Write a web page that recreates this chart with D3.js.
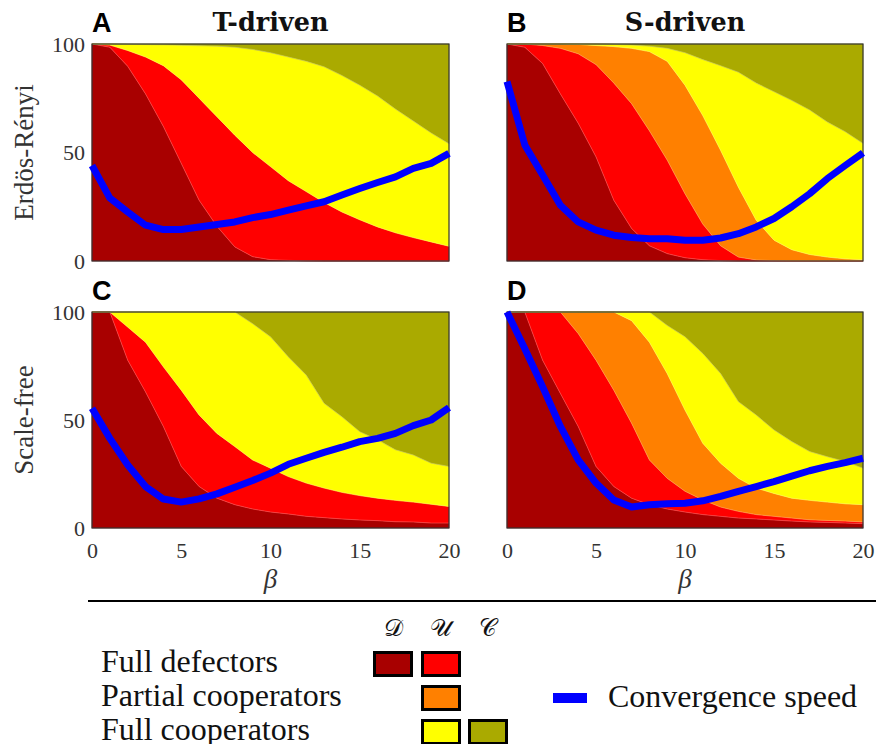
<!DOCTYPE html>
<html>
<head>
<meta charset="utf-8">
<script src="https://cdn.jsdelivr.net/npm/d3@7"></script>
<style>
  body { margin: 0; background: #fff; }
  text { font-family: "Liberation Serif", serif; fill: #222; }
</style>
</head>
<body>
<svg id="fig"></svg>
<script>

var beta = [0,1,2,3,4,5,6,7,8,9,10,11,12,13,14,15,16,17,18,19,20];

// cumulative tops of each band (% of nodes)
var A_defD  = [100,98.5,89.7,77,62,45,28,16,6.5,2,0.6,0.3,0.1,0,0,0,0,0,0,0,0];
var A_defU  = [100,99.5,97,94,90,83.5,75,66.5,58,50,43.5,37,32,27,22.6,19,15.7,13,10.8,8.8,6.8];
var A_coopU = [100,100,99.8,99.7,99.6,99.4,99.2,99,98.5,97.5,96,94,92,89.5,85.5,81,76,70,64.5,59,54];
var A_speed = [44,29,22.6,16.5,14.5,14.5,15.7,16.8,18,20,21.4,23.4,25.4,27.3,30.4,33.4,36.2,38.8,42.7,45,49.6];

var B_defD  = [100,98.5,91,77,63.5,48,28,15,7,3.4,1.5,0.6,0.2,0,0,0,0,0,0,0,0];
var B_defU  = [100,100,99.3,98,95.5,90.5,82,72.5,60,46.5,31,17,7,1.8,0.5,0.2,0,0,0,0,0];
var B_partU = [100,100,100,100,99.8,99.3,98.8,98,96.5,92,81,67,51,34,18.8,9.6,5.2,3,1.8,1,0.6];
var B_coopU = [100,100,100,100,100,100,99.8,99.5,99,98,96,92.8,90,87,82,78,74,69.6,64,59.6,54.2];
var B_speed = [82.7,53.5,39.6,25.7,18,14.2,11.9,10.8,10.3,10.3,9.6,9.6,10.6,12.6,15.7,19.6,25,31,38,44,49.8];

var C_defD  = [100,100,77.7,63,47,28.5,19.2,13.8,10.8,8.8,7.4,6.5,5.4,4.8,4.2,3.7,3.4,2.9,2.8,2.3,2.3];
var C_defU  = [100,100,93,86,74.6,63.8,52.3,43.8,37.7,31.5,27.7,23.8,20.8,18.5,16.5,15,13.8,12.8,12,11,10];
var C_coopU = [100,100,100,100,100,100,100,100,100,94.6,88.5,79.2,70.8,57.7,51.5,44.6,40.8,36.2,33.8,30,28.5];
var C_speed = [55.4,41.5,29.2,19.2,13.4,12,13.5,15.8,18.9,22,25.4,29.5,32.3,35,37.4,40,41.5,43.8,47.4,50,55.7];

var D_defD  = [100,100,77.7,62.3,47,28.5,19.2,13.8,10.8,8.8,7.4,6.2,5.4,4.6,4.2,3.7,3.2,2.8,2.6,2.3,2];
var D_defU  = [100,100,100,100,90,77.7,63.8,48.5,31.5,23,17,13,9.7,7.7,6.2,5.4,4.6,3.8,3.5,3.2,2.8];
var D_partU = [100,100,100,100,100,100,100,96,86,71.5,54.6,39.2,30,23,18.5,16,13.8,12.8,12,11.2,10.8];
var D_coopU = [100,100,100,100,100,100,100,100,100,93.8,88.5,80.8,71.5,58.5,52.3,45.4,40,35.4,33,30.8,27.7];
var D_speed = [100,83,65.4,47,31.5,20.8,13,9.7,10.8,11.2,11.5,12.6,14.6,17,19.2,21.5,24,26.5,28.5,30.3,32.3];

var yTicks = [0, 50, 100];
var xTicks = [0, 5, 10, 15, 20];
var colTitles = ["T-driven", "S-driven"];
var rowTitles = ["Erdös-Rényi", "Scale-free"];
var legendRows = ["Full defectors", "Partial cooperators", "Full cooperators"];
var legendCols = ["\u{1D49F}", "\u{1D4B0}", "\u{1D49E}"];

var colors = {
  defD: "#a80000", defU: "#ff0000", partU: "#ff8000",
  coopU: "#ffff00", coopC: "#aaaa00", speed: "#0000ff"
};

var width = 876;
var height = 744;
var serif = "'Liberation Serif', serif";

var svg = d3.select("#fig").attr("width", width).attr("height", height);
svg.append("rect").attr("width", width).attr("height", height).attr("fill", "#fff");

var cols = [[92, 449], [507, 863]];
var rows = [[44, 261], [312, 528]];

function drawPanel(letter, c, r, tops, speed) {
  var x = d3.scaleLinear().domain([0, 20]).range(cols[c]);
  var y = d3.scaleLinear().domain([0, 100]).range([rows[r][1], rows[r][0]]);
  var g = svg.append("g");

  var zero = beta.map(function() { return 0; });
  var full = beta.map(function() { return 100; });
  var bounds = [zero].concat(tops.map(function(t) { return t.v; })).concat([full]);
  var fills = tops.map(function(t) { return t.c; }).concat([colors.coopC]);

  fills.forEach(function(col, k) {
    var lo = bounds[k], hi = bounds[k + 1];
    var area = d3.area()
      .x(function(d, i) { return x(beta[i]); })
      .y0(function(d, i) { return y(lo[i]); })
      .y1(function(d, i) { return y(hi[i]); });
    g.append("path").attr("d", area(beta)).attr("fill", col).attr("stroke", col).attr("stroke-width", 0.5);
  });

  // faint light seams between bands
  tops.forEach(function(t) {
    var line = d3.line()
      .x(function(d, i) { return x(beta[i]); })
      .y(function(d, i) { return y(t.v[i]); });
    g.append("path").attr("d", line(beta)).attr("fill", "none")
      .attr("stroke", "rgba(255,255,255,0.3)").attr("stroke-width", 0.7);
  });

  g.append("rect")
    .attr("x", cols[c][0]).attr("y", rows[r][0])
    .attr("width", cols[c][1] - cols[c][0]).attr("height", rows[r][1] - rows[r][0])
    .attr("fill", "none").attr("stroke", "#333").attr("stroke-width", 1.2);

  var sl = d3.line()
    .x(function(d, i) { return x(beta[i]); })
    .y(function(d) { return y(d); });
  g.append("path").attr("d", sl(speed)).attr("fill", "none")
    .attr("stroke", colors.speed).attr("stroke-width", 7).attr("stroke-linejoin", "round");

  if (c == 0) {
    var ya = g.append("g").attr("transform", "translate(" + cols[c][0] + ",0)")
      .call(d3.axisLeft(y).tickValues(yTicks).tickSize(0).tickPadding(7));
    ya.select(".domain").remove();
    ya.selectAll("text").style("font-family", serif).attr("font-size", 22).style("fill", "#333");
  }
  if (r == 1) {
    var xa = g.append("g").attr("transform", "translate(0," + rows[r][1] + ")")
      .call(d3.axisBottom(x).tickValues(xTicks).tickSize(0).tickPadding(14));
    xa.select(".domain").remove();
    xa.selectAll("text").style("font-family", serif).attr("font-size", 22).style("fill", "#333");
    g.append("text").attr("x", (cols[c][0] + cols[c][1]) / 2).attr("y", 588)
      .attr("text-anchor", "middle").attr("font-style", "italic").attr("font-size", 27)
      .style("fill", "#333").text("\u03B2");
  }

  g.append("text").attr("x", cols[c][0]).attr("y", rows[r][0] - 12)
    .attr("font-weight", "bold").attr("font-size", 27)
    .style("font-family", "'Liberation Sans', sans-serif").style("fill", "#000")
    .text(letter);
}

drawPanel("A", 0, 0, [{v: A_defD, c: colors.defD}, {v: A_defU, c: colors.defU}, {v: A_coopU, c: colors.coopU}], A_speed);
drawPanel("B", 1, 0, [{v: B_defD, c: colors.defD}, {v: B_defU, c: colors.defU}, {v: B_partU, c: colors.partU}, {v: B_coopU, c: colors.coopU}], B_speed);
drawPanel("C", 0, 1, [{v: C_defD, c: colors.defD}, {v: C_defU, c: colors.defU}, {v: C_coopU, c: colors.coopU}], C_speed);
drawPanel("D", 1, 1, [{v: D_defD, c: colors.defD}, {v: D_defU, c: colors.defU}, {v: D_partU, c: colors.partU}, {v: D_coopU, c: colors.coopU}], D_speed);

colTitles.forEach(function(t, c) {
  svg.append("text").attr("x", (cols[c][0] + cols[c][1]) / 2).attr("y", 31)
    .attr("text-anchor", "middle").attr("font-weight", "bold").attr("font-size", 25.5)
    .style("font-family", "'DejaVu Serif', serif").style("fill", "#111")
    .text(t);
});

rowTitles.forEach(function(t, r) {
  svg.append("text")
    .attr("transform", "translate(33," + (rows[r][0] + rows[r][1]) / 2 + ") rotate(-90)")
    .attr("text-anchor", "middle").attr("font-size", 27).style("fill", "#333")
    .text(t);
});

// legend
svg.append("line").attr("x1", 88).attr("x2", 876).attr("y1", 601).attr("y2", 601)
  .attr("stroke", "#000").attr("stroke-width", 2);

var colX = [373, 421, 468];
var rowY = [651, 685, 719];
legendCols.forEach(function(t, k) {
  svg.append("text").attr("x", colX[k] + 20).attr("y", 636).attr("text-anchor", "middle")
    .attr("font-size", 24).style("font-family", "'DejaVu Sans', 'DejaVu Serif', serif")
    .style("fill", "#111").text(t);
});
legendRows.forEach(function(t, k) {
  svg.append("text").attr("x", 101).attr("y", rowY[k] + 21).attr("font-size", 32)
    .style("fill", "#111").text(t);
});
var swatches = [
  [0, 0, colors.defD], [1, 0, colors.defU],
  [1, 1, colors.partU],
  [1, 2, colors.coopU], [2, 2, colors.coopC]
];
swatches.forEach(function(s) {
  svg.append("rect").attr("x", colX[s[0]] + 1.5).attr("y", rowY[s[1]] + 1.5)
    .attr("width", 37).attr("height", 23)
    .attr("fill", s[2]).attr("stroke", "#000").attr("stroke-width", 3);
});
svg.append("rect").attr("x", 553).attr("y", 693).attr("width", 34).attr("height", 10)
  .attr("fill", colors.speed);
svg.append("text").attr("x", 608).attr("y", 707).attr("font-size", 32).style("fill", "#111")
  .text("Convergence speed");

</script>
</body>
</html>
